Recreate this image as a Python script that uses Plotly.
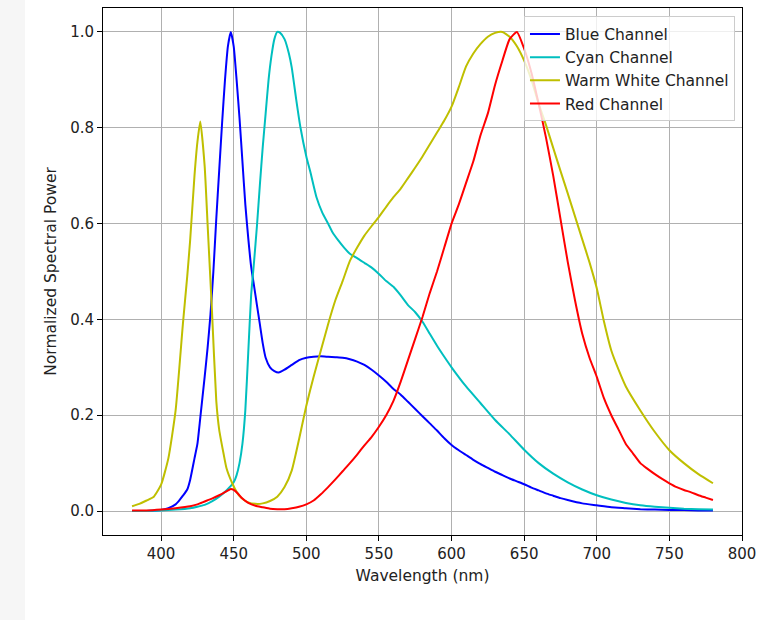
import plotly.graph_objects as go

# ---- data ----
blue_wl = [380, 390, 400, 405, 410, 412, 415, 418, 420, 423, 425, 427, 430, 432, 434, 436, 438, 440, 442, 444, 446, 448,
           450, 452, 454, 456, 458, 460, 462, 464, 466, 468, 470, 472, 475, 478, 481, 485, 490, 495, 500, 505, 510, 515,
           520, 525, 530, 535, 540, 545, 550, 555, 560, 565, 570, 575, 580, 585, 590, 595, 600, 605, 610, 615, 620, 625,
           630, 635, 640, 645, 650, 655, 660, 665, 670, 675, 680, 690, 700, 710, 720, 730, 740, 750, 760, 770, 780]
blue_val = [0.0, 0.0, 0.002, 0.006, 0.014, 0.02, 0.032, 0.045, 0.065, 0.11, 0.14, 0.195, 0.28, 0.34, 0.41, 0.5, 0.61, 0.71,
            0.81, 0.9, 0.97, 1.0, 0.97, 0.9, 0.82, 0.73, 0.64, 0.57, 0.51, 0.47, 0.43, 0.39, 0.35, 0.32, 0.3, 0.292, 0.289,
            0.295, 0.305, 0.315, 0.32, 0.322, 0.323, 0.322, 0.321, 0.32, 0.317, 0.312, 0.305, 0.295, 0.283, 0.27, 0.255,
            0.243, 0.228, 0.213, 0.198, 0.183, 0.168, 0.152, 0.138, 0.127, 0.117, 0.107, 0.098, 0.09, 0.082, 0.075, 0.068,
            0.062, 0.056, 0.049, 0.043, 0.037, 0.032, 0.027, 0.023, 0.016, 0.012, 0.008, 0.006, 0.004, 0.003, 0.002, 0.002,
            0.001, 0.001]

cyan_wl = [380, 390, 400, 410, 420, 425, 430, 435, 440, 445, 450, 452, 454, 456, 458, 460, 462, 464, 466, 468, 470, 472,
           474, 476, 478, 480, 482, 485, 488, 490, 493, 496, 500, 503, 507, 511, 515, 518, 522, 526, 530, 535, 540, 545,
           550, 555, 560, 565, 570, 575, 580, 585, 590, 595, 600, 610, 620, 630, 640, 650, 660, 670, 680, 690, 700, 710,
           720, 730, 740, 750, 760, 770, 780]
cyan_val = [0.0, 0.0, 0.001, 0.003, 0.006, 0.009, 0.013, 0.02, 0.03, 0.043, 0.06, 0.075, 0.1, 0.14, 0.21, 0.33, 0.45, 0.52,
            0.595, 0.68, 0.76, 0.83, 0.9, 0.95, 0.985, 1.0, 0.998, 0.985, 0.955, 0.925, 0.86, 0.8, 0.74, 0.705, 0.655,
            0.623, 0.6, 0.582, 0.565, 0.55, 0.537, 0.528, 0.518, 0.508, 0.495, 0.48, 0.468, 0.45, 0.43, 0.415, 0.395,
            0.37, 0.345, 0.322, 0.3, 0.26, 0.225, 0.19, 0.16, 0.128, 0.1, 0.078, 0.06, 0.045, 0.033, 0.024, 0.017, 0.012,
            0.009, 0.007, 0.005, 0.004, 0.003]

warm_wl = [380, 385, 390, 395, 400, 405, 410, 415, 418, 420, 423, 425, 427, 430, 432, 434, 435, 438, 440, 443, 445, 449,
           452, 455, 460, 465, 470, 475, 480, 485, 490, 495, 500, 505, 510, 515, 520, 525, 530, 535, 540, 545, 550, 555,
           560, 565, 570, 575, 580, 585, 590, 595, 600, 605, 610, 615, 620, 625, 630, 635, 640, 645, 650, 655, 660, 665,
           670, 675, 680, 685, 690, 695, 700, 705, 710, 715, 720, 730, 740, 750, 760, 770, 780]
warm_val = [0.01, 0.015, 0.022, 0.03, 0.055, 0.11, 0.21, 0.39, 0.49, 0.565, 0.7, 0.77, 0.813, 0.72, 0.6, 0.48, 0.42, 0.23,
            0.17, 0.12, 0.09, 0.058, 0.04, 0.028, 0.018, 0.015, 0.016, 0.021, 0.03, 0.05, 0.085, 0.15, 0.22, 0.28, 0.335,
            0.39, 0.44, 0.48, 0.522, 0.55, 0.575, 0.595, 0.614, 0.635, 0.655, 0.673, 0.695, 0.717, 0.74, 0.765, 0.79,
            0.815, 0.844, 0.885, 0.928, 0.955, 0.975, 0.99, 0.998, 1.0, 0.99, 0.97, 0.94, 0.9, 0.85, 0.806, 0.758, 0.71,
            0.663, 0.615, 0.567, 0.519, 0.465, 0.395, 0.335, 0.295, 0.26, 0.21, 0.165, 0.127, 0.1, 0.077, 0.058]

red_wl = [380, 390, 400, 410, 420, 425, 430, 435, 440, 445, 448, 450, 453, 456, 460, 465, 470, 475, 480, 485, 490, 495,
          500, 505, 510, 515, 520, 525, 530, 535, 540, 545, 550, 555, 560, 565, 570, 575, 580, 585, 590, 595, 600, 605,
          610, 615, 620, 625, 630, 635, 640, 645, 650, 655, 660, 665, 670, 675, 680, 685, 690, 695, 700, 705, 710, 715,
          720, 725, 730, 735, 740, 745, 750, 755, 760, 765, 770, 775, 780]
red_val = [0.001, 0.001, 0.003, 0.006, 0.01, 0.014, 0.02, 0.026, 0.033, 0.041, 0.046, 0.044, 0.036, 0.026, 0.017, 0.011,
           0.008, 0.005, 0.004, 0.004, 0.006, 0.009, 0.014, 0.022, 0.035, 0.05, 0.066, 0.083, 0.1, 0.118, 0.137, 0.155,
           0.176, 0.2, 0.23, 0.27, 0.315, 0.36, 0.405, 0.455, 0.5, 0.55, 0.6, 0.64, 0.685, 0.73, 0.785, 0.83, 0.89, 0.94,
           0.985, 1.0, 0.965, 0.915, 0.85, 0.78, 0.7, 0.61, 0.52, 0.44, 0.37, 0.32, 0.28, 0.235, 0.2, 0.17, 0.14, 0.12, 0.1,
           0.088, 0.077, 0.067, 0.058, 0.05, 0.044, 0.039, 0.033, 0.028, 0.023]

series = [
    ("Blue Channel", blue_wl, blue_val, "#0000ff"),
    ("Cyan Channel", cyan_wl, cyan_val, "#00bfbf"),
    ("Warm White Channel", warm_wl, warm_val, "#bfbf00"),
    ("Red Channel", red_wl, red_val, "#ff0000"),
]

x_ticks = [400, 450, 500, 550, 600, 650, 700, 750, 800]
y_ticks = [0.0, 0.2, 0.4, 0.6, 0.8, 1.0]

FONT = "DejaVu Sans"
TXT = "#222222"

fig = go.Figure()
for name, wl, val, col in series:
    fig.add_trace(go.Scatter(x=wl, y=val, mode="lines", name=name,
                             line=dict(color=col, width=2, shape="spline", smoothing=0.5)))

axis_common = dict(
    showline=True, linecolor="#000000", linewidth=1, mirror=True,
    ticks="outside", ticklen=5, tickwidth=1, tickcolor="#000000",
    showgrid=True, gridcolor="#b0b0b0", gridwidth=1, zeroline=False,
    tickfont=dict(family=FONT, size=15, color=TXT),
)

fig.update_xaxes(range=[360, 800], tickvals=x_ticks, ticktext=[str(t) for t in x_ticks],
                 title=dict(text="Wavelength (nm)", font=dict(family=FONT, size=15.5, color=TXT), standoff=8),
                 **axis_common)
fig.update_yaxes(range=[-0.05, 1.05], tickvals=y_ticks, ticktext=[f"{t:.1f}" for t in y_ticks],
                 title=dict(text="Normalized Spectral Power", font=dict(family=FONT, size=15.5, color=TXT), standoff=9),
                 **axis_common)

fig.add_shape(type="rect", xref="paper", yref="paper",
              x0=-103 / 639, x1=-78 / 639, y0=-85 / 526.5, y1=1 + 8.5 / 526.5,
              fillcolor="#f6f6f6", line=dict(width=0), layer="below")

fig.update_layout(
    width=767, height=620,
    margin=dict(l=103, r=25, t=8, b=85),
    paper_bgcolor="#ffffff", plot_bgcolor="#ffffff",
    font=dict(family=FONT, size=15, color=TXT),
    showlegend=True,
    legend=dict(x=0.989, y=0.984, xanchor="right", yanchor="top",
                bgcolor="rgba(255,255,255,0.8)", bordercolor="#cccccc", borderwidth=1,
                font=dict(family=FONT, size=15.5, color=TXT),
                itemwidth=30, tracegroupgap=0),
)

fig.write_html("out.html")
